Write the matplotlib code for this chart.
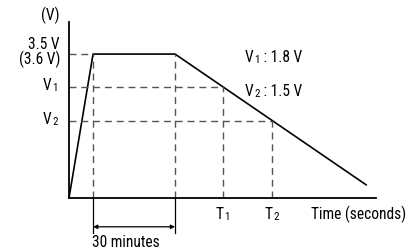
import matplotlib.pyplot as plt
import numpy as np

plt.rcParams['font.family'] = ['Roboto Condensed', 'Liberation Sans', 'DejaVu Sans']

# charge / discharge profile (time in minutes, voltage in schematic units)
t_points = [0.0, 8.8, 38.8, 108.7]
v_points = [0.0, 3.5, 3.5, 0.32]
v_levels = [3.5, 2.7, 1.87]
t_marks = [56.2, 74.2]
t_max = 112.3
v_max = 4.28

fs = 11.2
sfs = 8.0


def sub_label(ax, x, y, main, sub, rest='', ha='left'):
    # text with a small, nearly baseline digit, like V1 / T2
    if ha == 'left':
        a = ax.text(x, y, main, fontsize=fs, ha='left', va='center', clip_on=False)
        b = ax.annotate(sub, xy=(1, 0), xycoords=a, fontsize=sfs, ha='left', va='bottom',
                        xytext=(0.6, 0), textcoords='offset points', annotation_clip=False)
        if rest:
            ax.annotate(rest, xy=(1, 0), xycoords=b, fontsize=fs, ha='left', va='bottom',
                        annotation_clip=False)
    elif ha == 'right':
        b = ax.text(x, y - 0.07, sub, fontsize=sfs, ha='right', va='center', clip_on=False)
        ax.annotate(main, xy=(0, 0), xycoords=b, fontsize=fs, ha='right', va='bottom',
                    xytext=(-0.6, 0), textcoords='offset points', annotation_clip=False)
    else:
        a = ax.text(x, y, main, fontsize=fs, ha='right', va='center', clip_on=False)
        ax.annotate(sub, xy=(1, 0), xycoords=a, fontsize=sfs, ha='left', va='bottom',
                    xytext=(0.6, 0), textcoords='offset points', annotation_clip=False)


fig = plt.figure(figsize=(4.19, 2.48), dpi=100)
ax = fig.add_axes([69/419, 50/248, 307/419, 176/248])
ax.set_xlim(0, t_max)
ax.set_ylim(0, v_max)
for s in ['top', 'right']:
    ax.spines[s].set_visible(False)
ax.spines['left'].set_linewidth(1.3)
ax.spines['bottom'].set_linewidth(1.3)
ax.set_xticks([])
ax.set_yticks([])

dash = dict(color='#555555', lw=1.0, dashes=(5, 3.5))

ax.plot(t_points, v_points, color='black', lw=1.2)

# guide lines
ax.plot([0, t_points[1]], [v_levels[0]] * 2, **dash)
ax.plot([0, t_marks[0]], [v_levels[1]] * 2, **dash)
ax.plot([0, t_marks[1]], [v_levels[2]] * 2, **dash)
ax.plot([t_points[1]] * 2, [0, v_levels[0]], **dash)
ax.plot([t_points[2]] * 2, [0, v_levels[0]], **dash)
ax.plot([t_points[1]] * 2, [-0.85, 0], color='black', lw=0.9, clip_on=False)
ax.plot([t_points[2]] * 2, [-0.85, 0], color='black', lw=0.9, clip_on=False)
ax.plot([t_marks[0]] * 2, [0, v_levels[1]], **dash)
ax.plot([t_marks[1]] * 2, [0, v_levels[2]], **dash)

# 30 minutes dimension
ax.annotate('', xy=(t_points[1], -0.7), xytext=(t_points[2], -0.7),
            arrowprops=dict(arrowstyle='<|-|>', color='black', lw=0.9,
                            mutation_scale=6, shrinkA=0, shrinkB=0),
            annotation_clip=False)
ax.text(t_points[1] - 0.3, -1.08, '30 minutes', fontsize=fs, ha='left',
        va='center', clip_on=False)

# labels
ax.text(-6.8, 4.43, '(V)', fontsize=fs, ha='center', va='center', clip_on=False)
ax.text(-3.3, v_levels[0] + 0.03, '3.5 V\n(3.6 V)', fontsize=fs, ha='right',
        va='center', linespacing=0.9, clip_on=False)
sub_label(ax, -4.0, v_levels[1] + 0.05, 'V', '1', ha='right')
sub_label(ax, -4.0, v_levels[2] + 0.05, 'V', '2', ha='right')
for t, s in zip(t_marks, ['1', '2']):
    sub_label(ax, t + 0.4, -0.4, 'T', s, ha='center')
ax.text(88.5, -0.4, 'Time (seconds)', fontsize=fs, ha='left', va='center',
        clip_on=False)
sub_label(ax, 64.3, 3.42, 'V', '1', ' : 1.8 V')
sub_label(ax, 64.3, 2.6, 'V', '2', ' : 1.5 V')

fig.savefig('out.png', dpi=100)
